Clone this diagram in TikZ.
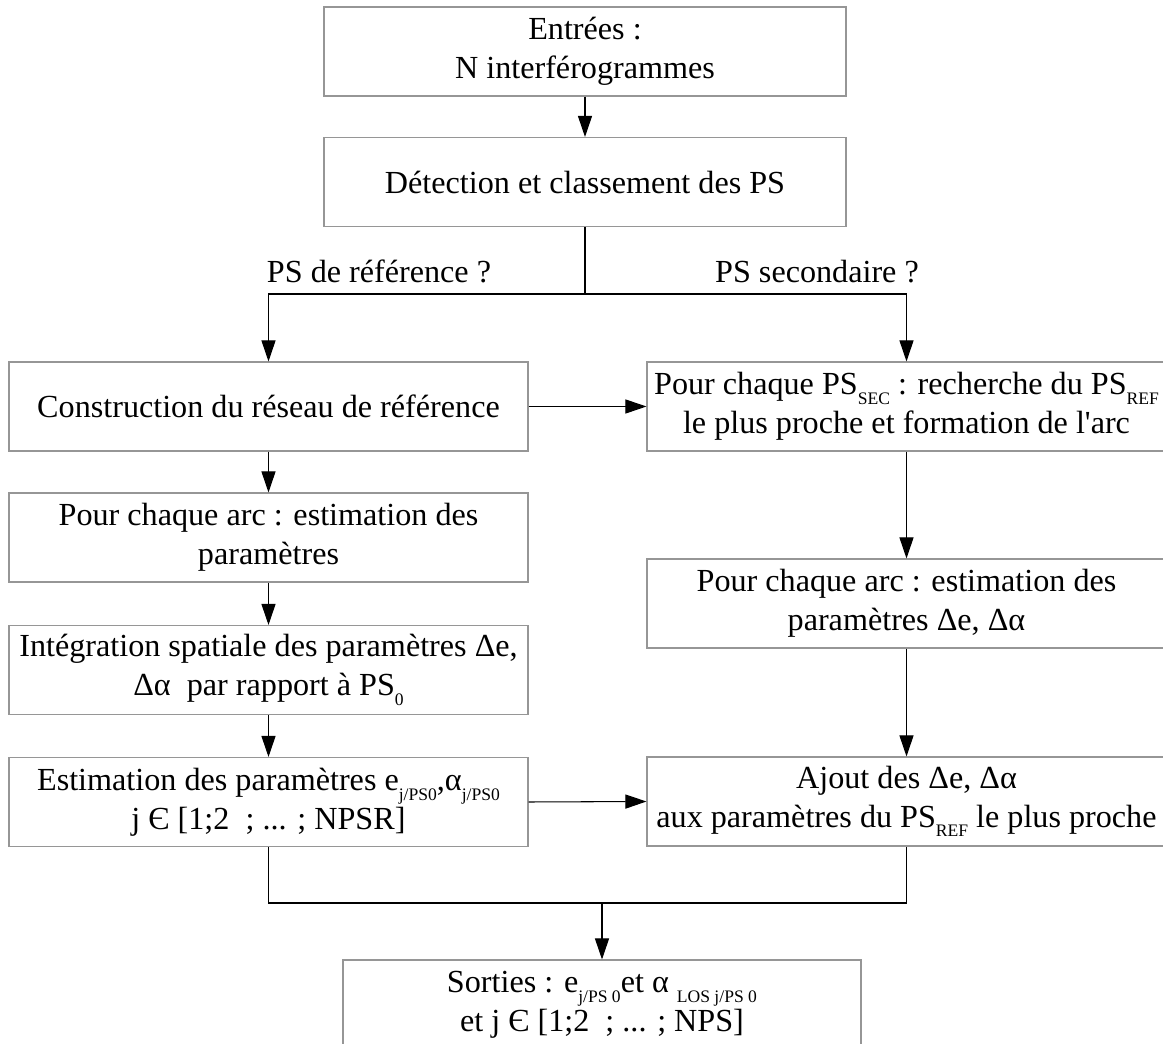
\documentclass[tikz,border=0pt]{standalone}
\usepackage{fontspec}
\setmainfont{Liberation Serif}
\usetikzlibrary{arrows.meta}
\definecolor{cadre}{RGB}{150,150,150}
\newcommand{\ind}[1]{\raisebox{-5.5pt}{\fontsize{10}{10}\selectfont #1}}
\tikzset{
  bloc/.style={draw=cadre,line width=0.6pt,minimum width=103.8mm,minimum height=17.8mm,
    inner sep=0pt,align=center,font=\fontsize{18.3}{22}\selectfont},
  lab/.style={inner sep=0pt,anchor=base,font=\fontsize{18.3}{22}\selectfont},
  trait/.style={line width=0.6pt},
  fl/.style={trait,-{Triangle[length=12pt,width=8pt]}}
}
\begin{document}
\begin{tikzpicture}[x=0.2mm,y=-0.2mm]
   \useasboundingbox (0,0) rectangle (1163,1044);
   \node[bloc,minimum width=104.4mm] (entree) at (585,51.5) {Entrées :\\N interférogrammes};
   \node[bloc,minimum width=104.4mm] (detect) at (585,182) {Détection et classement des PS};
   % colonne de gauche
   \node[bloc] (constr) at (268.5,406.5) {Construction du réseau de référence};
   \node[bloc] (arcg) at (268.5,537.5) {Pour chaque arc : estimation des\\paramètres};
   \node[bloc] (integ) at (268.5,670) {Intégration spatiale des paramètres Δe,\\Δα~ par rapport à PS\ind{0}};
   \node[bloc] (estim) at (268.5,802) {Estimation des paramètres e\ind{j/PS0},α\ind{j/PS0}\\j Є [1;2~ ; ... ; NPSR]};
   % colonne de droite
   \node[bloc] (psec) at (906.5,406.5) {Pour chaque PS\ind{SEC} : recherche du PS\ind{REF}\\le plus proche et formation de l\textquotesingle arc};
   \node[bloc] (arcd) at (906.5,603.5) {Pour chaque arc : estimation des\\paramètres Δe, Δα};
   \node[bloc] (ajout) at (906.5,801.5) {Ajout des Δe, Δα\\aux paramètres du PS\ind{REF} le plus proche};
   \node[bloc,minimum width=103.6mm] (sortie) at (602,1004.5) {Sorties : e\ind{j/PS 0}et α \ind{LOS j/PS 0}\\et j Є [1;2~ ; ... ; NPS]};
   \node[lab] (qref) at (379,283) {PS de référence ?};
   \node[lab] (qsec) at (817,283) {PS secondaire ?};
   \coordinate (fourche) at (585,294);
   \coordinate (jonction) at (602,903);
   \draw[fl] (entree) -- (detect);
   \draw[trait] (detect) -- (fourche);
   \draw[fl] (fourche) -| (constr);
   \draw[fl] (fourche) -| (psec);
   \draw[fl] (constr) -- (arcg);
   \draw[fl] (arcg) -- (integ);
   \draw[fl] (integ) -- (estim);
   \draw[fl] (constr.east) -- (psec.west);
   \draw[fl] (psec) -- (arcd);
   \draw[fl] (arcd) -- (ajout);
   \draw[fl] (estim.east) -- (ajout.west);
   \draw[trait] (estim) |- (jonction) -| (ajout);
   \draw[fl] (jonction) -- (sortie);
\end{tikzpicture}
\end{document}
